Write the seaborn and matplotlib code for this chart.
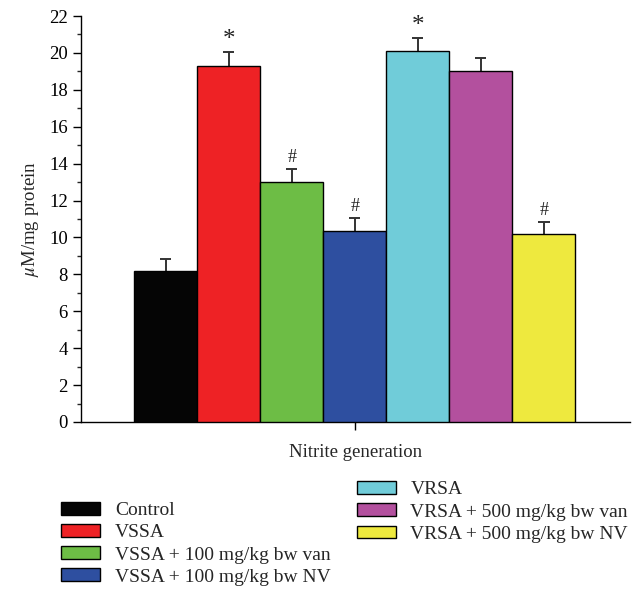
import matplotlib
matplotlib.use("Agg")
import matplotlib.pyplot as plt
import matplotlib.patches as mpatches
import seaborn as sns
import pandas as pd
import numpy as np

groups = ["Control", "VSSA", "VSSA + 100 mg/kg bw van", "VSSA + 100 mg/kg bw NV",
          "VRSA", "VRSA + 500 mg/kg bw van", "VRSA + 500 mg/kg bw NV"]
means = [8.2, 19.3, 13.0, 10.35, 20.1, 19.0, 10.2]
errors = [0.65, 0.75, 0.7, 0.7, 0.7, 0.7, 0.65]
marks = ["", "*", "#", "#", "*", "", "#"]
colors = ["#050505", "#ee2225", "#6dbd45", "#2e4fa0", "#70ccd9", "#b3509e", "#eee93e"]

sns.set_style("ticks")
plt.rcParams["font.family"] = ["Liberation Serif", "DejaVu Serif"]
plt.rcParams["mathtext.fontset"] = "stix"

df = pd.DataFrame({"group": groups, "value": means})

fig = plt.figure(figsize=(6.34, 5.94), dpi=100)
ax = fig.add_axes([0.128, 0.2896, 0.866, 0.6834])

sns.barplot(data=df, x="group", y="value", hue="group", palette=colors,
            order=groups, hue_order=groups, width=1, edgecolor="black",
            linewidth=1.0, saturation=1, legend=False, ax=ax, zorder=3)

# upper-only error bars with a cap
xs = np.arange(len(groups))
tops = np.array(means) + np.array(errors)
ax.vlines(xs, means, tops, color="#333333", linewidth=1.4, zorder=2)
ax.hlines(tops, xs - 0.09, xs + 0.09, color="#333333", linewidth=1.4, zorder=2)
for x, t, s in zip(xs, tops, marks):
    if s == "*":
        ax.text(x, t + 0.05, s, ha="center", va="bottom", fontsize=18, color="#222222")
    elif s:
        ax.text(x, t + 0.15, s, ha="center", va="bottom", fontsize=13, color="#222222")

ax.set_ylim(0, 22)
ax.set_yticks(np.arange(0, 23, 2))
ax.set_yticks(np.arange(0, 23, 1), minor=True)
ax.set_xlim(-1.34, 7.37)
ax.set_xticks([3])
ax.set_xticklabels([""])
ax.tick_params(axis="both", which="major", direction="out", length=6, width=1,
               labelsize=13.5, colors="black")
ax.tick_params(axis="y", which="minor", direction="out", length=3, width=1)
for sp in ["left", "bottom"]:
    ax.spines[sp].set_linewidth(1)
    ax.spines[sp].set_color("black")
sns.despine(ax=ax)
ax.set_xlabel("Nitrite generation", fontsize=13.5, labelpad=6)
ax.set_ylabel(r"$\mu$M/mg protein", fontsize=13.5, labelpad=6)

handles = [mpatches.Patch(facecolor=c, edgecolor="black", linewidth=1) for c in colors]
leg_kw = dict(frameon=False, fontsize=14, handlelength=2.0, handleheight=0.65,
              handletextpad=0.75, labelspacing=0.25, borderpad=0, borderaxespad=0,
              loc="upper left")
leg1 = fig.legend(handles[:4], groups[:4], bbox_to_anchor=(0.097, 0.155), **leg_kw)
leg2 = fig.legend(handles[4:], groups[4:], bbox_to_anchor=(0.563, 0.19), **leg_kw)

fig.savefig("out.png", dpi=100)
